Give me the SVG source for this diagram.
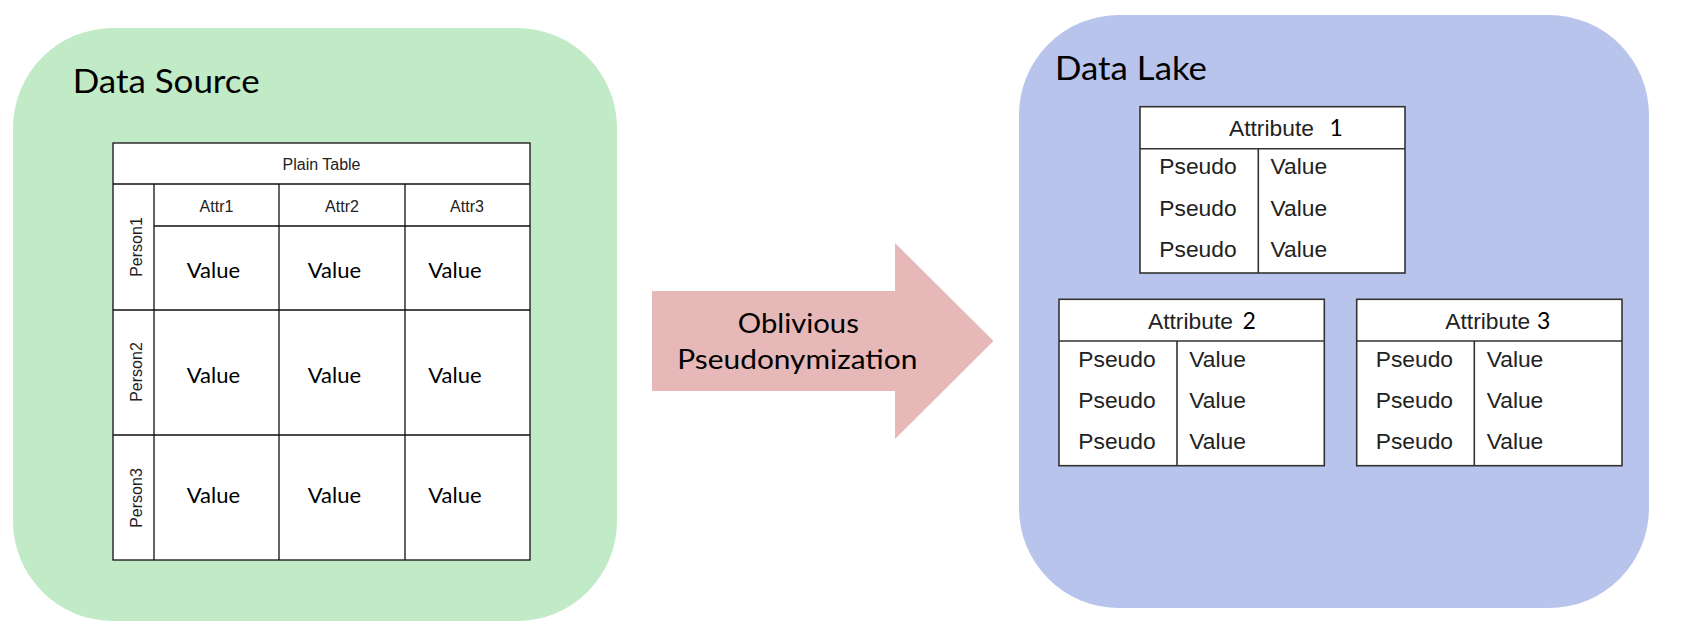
<svg xmlns="http://www.w3.org/2000/svg" width="1685" height="641" viewBox="0 0 1685 641">
<style>
.title{font-family:Lato,"Noto Sans",sans-serif;font-size:33px;fill:#000}
.pv{font-family:Lato,"Noto Sans",sans-serif;font-size:22px;fill:#000;text-anchor:middle}
.ar{font-family:"Liberation Sans",Arial,sans-serif;fill:#222}
.sm{font-size:16px;text-anchor:middle}
.md{font-size:22.8px}
.ln{stroke:#111;stroke-width:1.3;fill:none}
.ln2{stroke:#333;stroke-width:1.6;fill:none}
.cell{fill:#fff;stroke:#111;stroke-width:1.3}
.cell2{fill:#fff;stroke:#333;stroke-width:1.6}
.arrowtxt{font-family:Lato,"Noto Sans",sans-serif;font-size:26px;fill:#000;text-anchor:middle}
.num{font-family:Lato,"Noto Sans",sans-serif;fill:#000;font-size:23px}
</style>
<g id="data-source">
<rect x="13" y="28" width="604" height="593" rx="100" ry="100" fill="#c1eac6"/>
<text class="title" x="72.7" y="93.3" textLength="187" lengthAdjust="spacingAndGlyphs">Data Source</text>
</g>
<g id="plain-table">
<rect class="cell" x="113" y="143" width="417" height="417"/>
<path class="ln" d="M113 184H530M154 226H530M113 310H530M113 435H530M154 184V560M279 184V560M405 184V560"/>
<text class="ar sm" x="321.5" y="170">Plain Table</text>
<text class="ar sm" x="216.5" y="211.7">Attr1</text>
<text class="ar sm" x="342" y="211.7">Attr2</text>
<text class="ar sm" x="467" y="211.7">Attr3</text>
<text class="ar sm" transform="translate(141.5 247) rotate(-90)">Person1</text>
<text class="ar sm" transform="translate(141.5 372) rotate(-90)">Person2</text>
<text class="ar sm" transform="translate(141.5 498) rotate(-90)">Person3</text>
<text class="pv" x="213.4" y="277.7">Value</text>
<text class="pv" x="334.5" y="277.7">Value</text>
<text class="pv" x="455" y="277.7">Value</text>
<text class="pv" x="213.4" y="382.7">Value</text>
<text class="pv" x="334.5" y="382.7">Value</text>
<text class="pv" x="455" y="382.7">Value</text>
<text class="pv" x="213.4" y="503.3">Value</text>
<text class="pv" x="334.5" y="503.3">Value</text>
<text class="pv" x="455" y="503.3">Value</text>
</g>
<g id="connectors">
<g id="arrow-pseudonymization">
<polygon points="652,291 895,291 895,243 993.5,341 895,439 895,391 652,391" fill="#e6b8b7"/>
<text class="arrowtxt" x="798.3" y="333.3" textLength="121" lengthAdjust="spacingAndGlyphs">Oblivious</text>
<text class="arrowtxt" x="797.3" y="369.3" textLength="240" lengthAdjust="spacingAndGlyphs">Pseudonymization</text>
</g>
</g>
<g id="data-lake">
<rect x="1019" y="15" width="630" height="593" rx="100" ry="100" fill="#b8c4ec"/>
<text class="title" x="1055" y="80" textLength="152" lengthAdjust="spacingAndGlyphs">Data Lake</text>
</g>
<g id="attribute-1">
<rect class="cell2" x="1140" y="106.7" width="265" height="166.3"/>
<path class="ln2" d="M1140 148.7H1405M1258.3 148.7V273"/>
<text class="ar md" x="1229" y="136.4">Attribute</text>
<text class="num" x="1329.5" y="136.4">1</text>
<text class="ar md" x="1159.3" y="174.4">Pseudo</text>
<text class="ar md" x="1159.3" y="216">Pseudo</text>
<text class="ar md" x="1159.3" y="257">Pseudo</text>
<text class="ar md" x="1270.5" y="174.4">Value</text>
<text class="ar md" x="1270.5" y="216">Value</text>
<text class="ar md" x="1270.5" y="257">Value</text>
</g>
<g id="attribute-2">
<rect class="cell2" x="1059" y="299.3" width="265.3" height="166.4"/>
<path class="ln2" d="M1059 341H1324.3M1177 341V465.7"/>
<text class="ar md" x="1148" y="329">Attribute</text>
<text class="num" x="1242.5" y="329">2</text>
<text class="ar md" x="1078.3" y="366.7">Pseudo</text>
<text class="ar md" x="1078.3" y="408.3">Pseudo</text>
<text class="ar md" x="1078.3" y="449.3">Pseudo</text>
<text class="ar md" x="1189.3" y="366.7">Value</text>
<text class="ar md" x="1189.3" y="408.3">Value</text>
<text class="ar md" x="1189.3" y="449.3">Value</text>
</g>
<g id="attribute-3">
<rect class="cell2" x="1356.7" y="299.3" width="265.3" height="166.4"/>
<path class="ln2" d="M1356.7 341H1622M1474.3 341V465.7"/>
<text class="ar md" x="1445.3" y="329">Attribute</text>
<text class="num" x="1537" y="329">3</text>
<text class="ar md" x="1375.7" y="366.7">Pseudo</text>
<text class="ar md" x="1375.7" y="408.3">Pseudo</text>
<text class="ar md" x="1375.7" y="449.3">Pseudo</text>
<text class="ar md" x="1486.7" y="366.7">Value</text>
<text class="ar md" x="1486.7" y="408.3">Value</text>
<text class="ar md" x="1486.7" y="449.3">Value</text>
</g>
</svg>
